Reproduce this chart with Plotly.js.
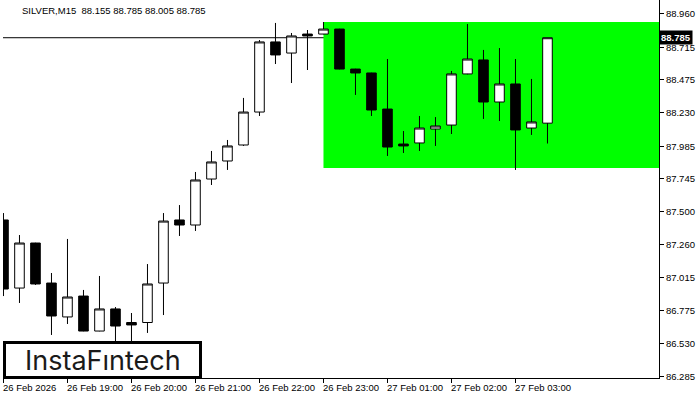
<!DOCTYPE html>
<html><head><meta charset="utf-8">
<script src="https://cdn.plot.ly/plotly-3.0.1.min.js"></script>
<style>html,body{margin:0;padding:0;background:#fff}#chart{width:700px;height:400px}</style>
</head><body><div id="chart"></div>
<script>
const times = ["26 Feb 18:00","26 Feb 18:15","26 Feb 18:30","26 Feb 18:45","26 Feb 19:00","26 Feb 19:15","26 Feb 19:30","26 Feb 19:45",
 "26 Feb 20:00","26 Feb 20:15","26 Feb 20:30","26 Feb 20:45","26 Feb 21:00","26 Feb 21:15","26 Feb 21:30","26 Feb 21:45",
 "26 Feb 22:00","26 Feb 22:15","26 Feb 22:30","26 Feb 22:45","26 Feb 23:00","26 Feb 23:15","26 Feb 23:30","26 Feb 23:45",
 "27 Feb 01:00","27 Feb 01:15","27 Feb 01:30","27 Feb 01:45","27 Feb 02:00","27 Feb 02:15","27 Feb 02:30","27 Feb 02:45",
 "27 Feb 03:00","27 Feb 03:15","27 Feb 03:30"];
const open  = [87.441,86.939,87.271,86.976,86.726,86.880,86.622,86.785,86.685,86.685,86.976,87.441,87.404,87.743,87.876,87.994,88.237,88.754,88.672,88.812,88.812,88.849,88.554,88.525,88.259,88.001,88.009,88.112,88.141,88.518,88.621,88.311,88.444,88.119,88.155];
const high  = [87.492,87.330,87.273,87.050,87.301,86.925,87.028,86.799,86.755,87.116,87.492,87.551,87.795,87.950,88.031,88.341,88.768,88.894,88.820,88.842,88.901,88.851,88.556,88.527,88.628,88.097,88.208,88.200,88.540,88.886,88.695,88.709,88.628,88.481,88.785];
const low   = [86.880,86.829,86.962,86.593,86.674,86.620,86.620,86.500,86.500,86.608,86.740,87.323,87.360,87.699,87.810,87.987,88.208,88.591,88.451,88.547,88.810,88.552,88.363,88.208,87.913,87.935,87.950,87.987,88.075,88.515,88.186,88.171,87.810,88.068,88.005];
const close = [86.932,87.271,86.969,86.733,86.873,86.622,86.785,86.659,86.667,86.969,87.433,87.404,87.736,87.869,87.987,88.237,88.754,88.658,88.798,88.798,88.849,88.554,88.525,88.252,87.979,87.987,88.119,88.134,88.518,88.628,88.311,88.444,88.105,88.164,88.785];

const tickIdx = [0,4,8,12,16,20,24,28,32];
const tickLabels = ["26 Feb 2026","26 Feb 19:00","26 Feb 20:00","26 Feb 21:00","26 Feb 22:00","26 Feb 23:00","27 Feb 01:00","27 Feb 02:00","27 Feb 03:00"];
const yTicks = [88.960,88.715,88.475,88.230,87.985,87.745,87.500,87.260,87.015,86.775,86.530,86.285];

const zoneStartIdx = 20;
const zoneHigh = 88.901;
const zoneLow = 87.824;
const lastPrice = 88.785;
const titleText = "SILVER,M15  88.155 88.785 88.005 88.785";
const logoText = "InstaF\u0131ntech";

const xIdx = times.map((t, i) => i);
const xMax = 40.97;

const trace = {
  type: 'candlestick', x: xIdx, open: open, high: high, low: low, close: close,
  text: times, hoverinfo: 'skip', whiskerwidth: 0,
  increasing: {line: {color: '#000', width: 1}, fillcolor: '#fff'},
  decreasing: {line: {color: '#000', width: 1}, fillcolor: '#000'}
};

const font = 'Liberation Sans, Arial, sans-serif';
const annotations = tickIdx.map((idx, k) => ({
  x: idx, xref: 'x', y: -0.0251, yref: 'paper', text: tickLabels[k],
  xanchor: 'left', yanchor: 'middle', xshift: -2, showarrow: false,
  font: {family: font, size: 9.5, color: '#000'}
}));
annotations.push({
  x: 1, xref: 'paper', y: lastPrice, yref: 'y', text: lastPrice.toFixed(3),
  xanchor: 'left', yanchor: 'middle', xshift: 0, showarrow: false, bgcolor: '#000', borderpad: 1,
  font: {family: font, size: 9.5, color: '#fff', weight: 700}
});
annotations.push({
  x: 17/656, xref: 'paper', y: 1 - 11/378, yref: 'paper', text: titleText,
  xanchor: 'left', yanchor: 'middle', showarrow: false,
  font: {family: font, size: 9.5, color: '#000'}
});
annotations.push({
  x: 100/656, xref: 'paper', y: 1 - 360/378, yref: 'paper', text: logoText,
  xanchor: 'center', yanchor: 'middle', showarrow: false,
  font: {family: 'Inter, sans-serif', size: 27, color: '#1a1a1a', weight: 400}
});

const layout = {
  width: 700, height: 400, margin: {l: 3, r: 41, t: 0, b: 22, autoexpand: false},
  paper_bgcolor: '#fff', plot_bgcolor: '#fff', showlegend: false,
  font: {family: font, size: 9.5, color: '#000'},
  boxgap: 0.4, boxgroupgap: 0,
  xaxis: {type: 'linear', range: [-0.03, xMax], rangeslider: {visible: false}, showgrid: false, zeroline: false,
    showline: true, linecolor: '#000', linewidth: 1, ticks: 'outside', ticklen: 4, tickcolor: '#000',
    tickmode: 'array', tickvals: tickIdx, showticklabels: false, fixedrange: true},
  yaxis: {side: 'right', range: [86.2757, 89.0632], showgrid: false, zeroline: false,
    showline: true, linecolor: '#000', linewidth: 1, ticks: 'outside', ticklen: 4, tickcolor: '#000',
    tickmode: 'array', tickvals: yTicks, ticktext: yTicks.map(v => v.toFixed(3)),
    tickfont: {family: font, size: 9.5, color: '#000'}, fixedrange: true},
  shapes: [
    {type: 'rect', xref: 'x', yref: 'y', x0: zoneStartIdx, x1: xMax, y0: zoneLow, y1: zoneHigh,
      fillcolor: '#00ff00', line: {width: 0}, layer: 'below'},
    {type: 'line', xref: 'paper', yref: 'y', x0: 0, x1: 1, y0: lastPrice, y1: lastPrice,
      line: {color: '#000', width: 1}, layer: 'below'},
    {type: 'rect', xref: 'paper', yref: 'paper', x0: 1.5/656, x1: 197.5/656, y0: 1 - 377.5/378, y1: 1 - 342.5/378,
      fillcolor: '#fff', line: {color: '#000', width: 3}, layer: 'above'}
  ],
  annotations: annotations
};

Plotly.newPlot('chart', [trace], layout, {displayModeBar: false, staticPlot: true});
</script></body></html>
